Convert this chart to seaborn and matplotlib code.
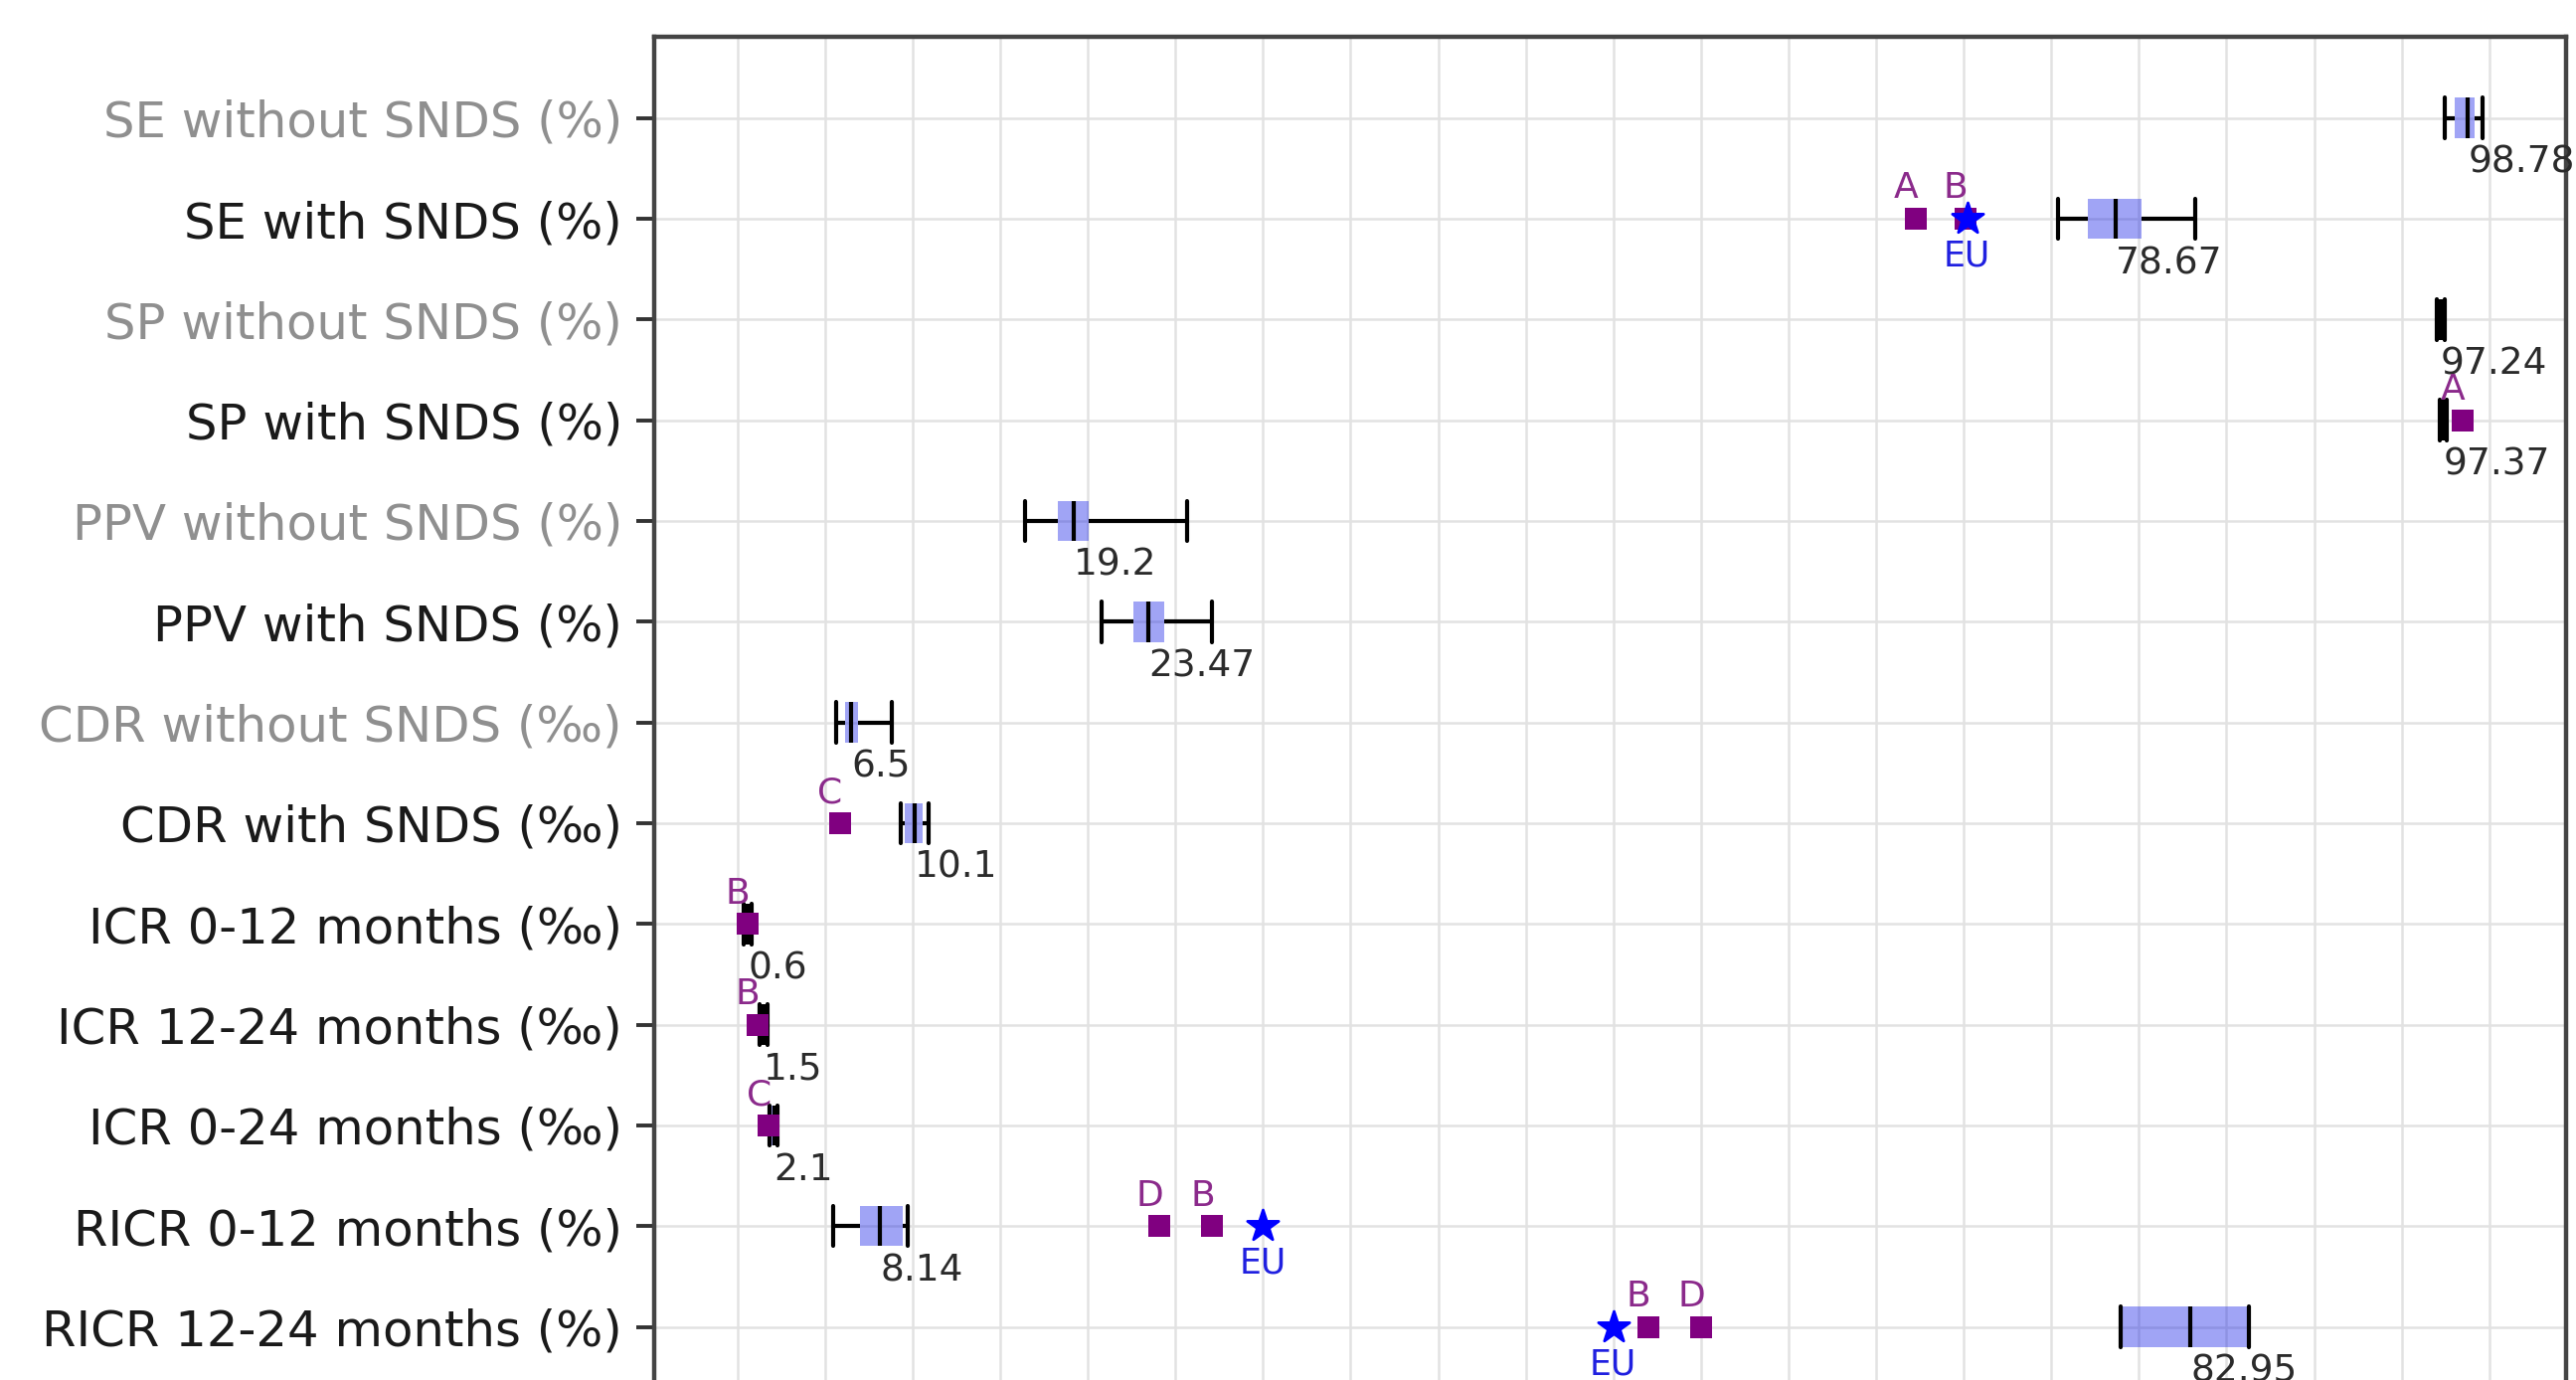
import matplotlib
matplotlib.use("Agg")
import matplotlib.pyplot as plt
import numpy as np
import pandas as pd
import seaborn as sns

# one row per indicator, top to bottom
metrics = [
    "SE without SNDS (%)", "SE with SNDS (%)",
    "SP without SNDS (%)", "SP with SNDS (%)",
    "PPV without SNDS (%)", "PPV with SNDS (%)",
    "CDR without SNDS (‰)", "CDR with SNDS (‰)",
    "ICR 0-12 months (‰)", "ICR 12-24 months (‰)", "ICR 0-24 months (‰)",
    "RICR 0-12 months (%)", "RICR 12-24 months (%)",
]
without_snds = [True, False, True, False, True, False, True, False,
                False, False, False, False, False]

# box summaries
whisker_lo = [97.47, 75.40, 97.02, 97.18, 16.40, 20.80, 5.62, 9.30, 0.35, 1.25, 1.85, 5.45, 78.96]
box_lo     = [98.05, 77.06, 97.12, 97.28, 18.28, 22.59, 6.13, 9.55, 0.45, 1.35, 1.95, 7.02, 78.96]
medians    = [98.78, 78.67, 97.24, 97.37, 19.20, 23.47, 6.50, 10.10, 0.60, 1.50, 2.10, 8.14, 82.95]
box_hi     = [99.18, 80.18, 97.35, 97.47, 20.06, 24.37, 6.89, 10.56, 0.70, 1.60, 2.20, 9.43, 86.28]
whisker_hi = [99.60, 83.20, 97.46, 97.58, 25.68, 27.09, 8.79, 10.94, 0.80, 1.70, 2.30, 9.72, 86.28]
median_text = ["98.78", "78.67", "97.24", "97.37", "19.2", "23.47", "6.5", "10.1",
               "0.6", "1.5", "2.1", "8.14", "82.95"]

# published comparators (studies A-D)
ref_metric = ["SE with SNDS (%)", "SE with SNDS (%)", "SP with SNDS (%)",
              "CDR with SNDS (‰)", "ICR 0-12 months (‰)", "ICR 12-24 months (‰)",
              "ICR 0-24 months (‰)", "RICR 0-12 months (%)", "RICR 0-12 months (%)",
              "RICR 12-24 months (%)", "RICR 12-24 months (%)"]
ref_study = ["A", "B", "A", "C", "B", "B", "C", "D", "B", "B", "D"]
ref_value = [67.25, 70.1, 98.5, 5.85, 0.58, 1.13, 1.79, 24.1, 27.1, 52.0, 55.0]

# European reference values
eu_metric = ["SE with SNDS (%)", "RICR 0-12 months (%)", "RICR 12-24 months (%)"]
eu_value = [70.2, 30.0, 50.0]

BOX_FILL = (0.07, 0.11, 0.9, 0.4)

sns.set_theme(style="ticks")
plt.rcParams["font.family"] = ["DejaVu Sans"]

DPI = 200
fig = plt.figure(figsize=(2591 / DPI, 1388 / DPI), dpi=DPI)
ax = fig.add_axes([0.2539, -0.0206, 0.7422, 0.9942])

rows = []
for m, lo, a, med, b, hi in zip(metrics, whisker_lo, box_lo, medians, box_hi, whisker_hi):
    for v in (lo, a, med, b, hi):
        rows.append({"metric": m, "value": v})
df = pd.DataFrame(rows)

sns.boxplot(data=df, x="value", y="metric", order=metrics, orient="h",
            whis=(0, 100), width=0.4, color="blue", saturation=1,
            linecolor="black", linewidth=1.5, capwidths=0.4,
            showfliers=False, ax=ax)
for patch in ax.patches:
    patch.set_facecolor(BOX_FILL)
    patch.set_edgecolor("none")

ref_y = [metrics.index(m) for m in ref_metric]
eu_y = [metrics.index(m) for m in eu_metric]
sns.scatterplot(x=ref_value, y=ref_y, marker="s", s=60, color="purple",
                linewidth=0, zorder=4, legend=False, ax=ax)
sns.scatterplot(x=eu_value, y=eu_y, marker="*", s=140, color="blue",
                edgecolor="blue", linewidth=1.0, zorder=5, legend=False, ax=ax)

for i, txt in enumerate(median_text):
    ax.annotate(txt, (medians[i], i), xytext=(0, -16.2), textcoords="offset points",
                ha="left", va="center", fontsize=13.5, color="#2b2b2b")
for x, y, s in zip(ref_value, ref_y, ref_study):
    ax.annotate(s, (x, y), xytext=(-3.5, 11), textcoords="offset points",
                ha="center", va="center", fontsize=13, color="#8b2a8b")
for x, y in zip(eu_value, eu_y):
    ax.annotate("EU", (x, y), xytext=(0, -13.5), textcoords="offset points",
                ha="center", va="center", fontsize=12.5, color="#2020e0")

ax.set_xlim(-4.76, 104.38)
ax.set_ylim(len(metrics) - 1 + 0.81, -0.81)
ax.set_xticks(np.arange(0, 101, 5))
ax.grid(True, color="#e2e2e2", linewidth=0.9)
ax.set_axisbelow(True)
ax.set_xlabel("")
ax.set_ylabel("")
ax.tick_params(axis="x", labelbottom=False, length=0)
ax.set_yticks(range(len(metrics)))
ax.set_yticklabels(metrics, fontsize=17.9)
for lbl, grey in zip(ax.get_yticklabels(), without_snds):
    lbl.set_color("#8f8f8f" if grey else "#1a1a1a")
ax.tick_params(axis="y", length=6.5, width=1.4, pad=5, color="#333333")
for spine in ax.spines.values():
    spine.set_visible(True)
    spine.set_linewidth(1.6)
    spine.set_color("#444444")

fig.savefig("out.png", dpi=DPI)
